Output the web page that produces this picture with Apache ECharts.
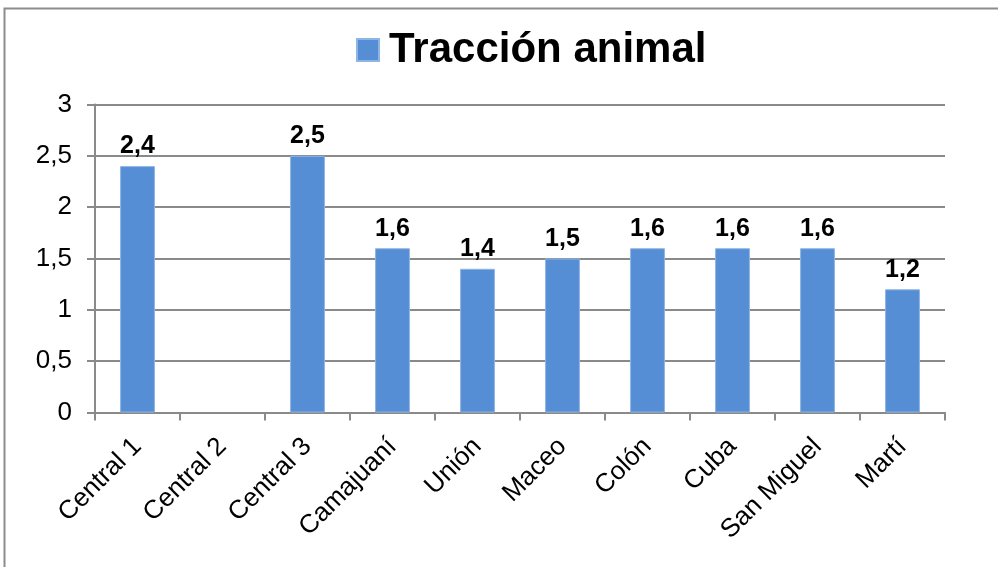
<!DOCTYPE html>
<html>
<head>
<meta charset="utf-8">
<script src="https://cdn.jsdelivr.net/npm/echarts@6/dist/echarts.min.js"></script>
<style>
  html, body { margin: 0; padding: 0; background: #fff; }
  #chart { width: 998px; height: 567px; }
</style>
</head>
<body>
<div id="chart"></div>
<script>
// Tracción animal por unidad
const seriesName = 'Tracción animal';
const categories = ['Central 1', 'Central 2', 'Central 3', 'Camajuaní', 'Unión', 'Maceo', 'Colón', 'Cuba', 'San Miguel', 'Martí'];
const values = [2.4, null, 2.5, 1.6, 1.4, 1.5, 1.6, 1.6, 1.6, 1.2];
const yTicks = [0, 0.5, 1, 1.5, 2, 2.5, 3];

const fmt = v => String(v).replace('.', ',');
const font = '"Liberation Sans", Arial, sans-serif';
const gridColor = '#8a8a8a';

const chart = echarts.init(document.getElementById('chart'));
chart.setOption({
  animation: false,
  textStyle: { fontFamily: font },
  graphic: [{
    type: 'rect',
    shape: { x: 4.5, y: 8.5, width: 1100, height: 700 },
    style: { fill: 'none', stroke: '#8c8c8c', lineWidth: 2 },
    silent: true
  }],
  legend: {
    left: 356,
    top: 29,
    padding: 0,
    itemWidth: 22,
    itemHeight: 22,
    itemGap: 10,
    icon: 'rect',
    textStyle: { fontFamily: font, fontSize: 42, fontWeight: 'bold', color: '#000', padding: [0, 0, 0, 5] },
    data: [seriesName]
  },
  grid: { left: 95, right: 53, top: 104.5, bottom: 154.5, containLabel: false },
  xAxis: {
    type: 'category',
    data: categories,
    axisLine: { lineStyle: { color: gridColor, width: 2 } },
    axisTick: { show: true, length: 8, alignWithLabel: false, lineStyle: { color: gridColor, width: 2 } },
    axisLabel: { interval: 0, rotate: 45, margin: 30, fontSize: 26, color: '#000', fontFamily: font }
  },
  yAxis: {
    type: 'value',
    min: yTicks[0],
    max: yTicks[yTicks.length - 1],
    interval: 0.5,
    axisLine: { show: true, lineStyle: { color: gridColor, width: 2 } },
    axisTick: { show: true, length: 8, lineStyle: { color: gridColor, width: 2 } },
    splitLine: { lineStyle: { color: gridColor, width: 2 } },
    axisLabel: { margin: 23, fontSize: 26, color: '#000', fontFamily: font, formatter: v => fmt(v) }
  },
  series: [{
    name: seriesName,
    type: 'bar',
    data: values,
    barWidth: '41%',
    itemStyle: { color: '#558ed5', borderColor: '#8fb5e4', borderWidth: 1 },
    label: {
      show: true,
      position: 'top',
      distance: 7,
      fontSize: 25,
      fontWeight: 'bold',
      color: '#000',
      fontFamily: font,
      formatter: p => fmt(p.value)
    }
  }]
});
</script>
</body>
</html>
